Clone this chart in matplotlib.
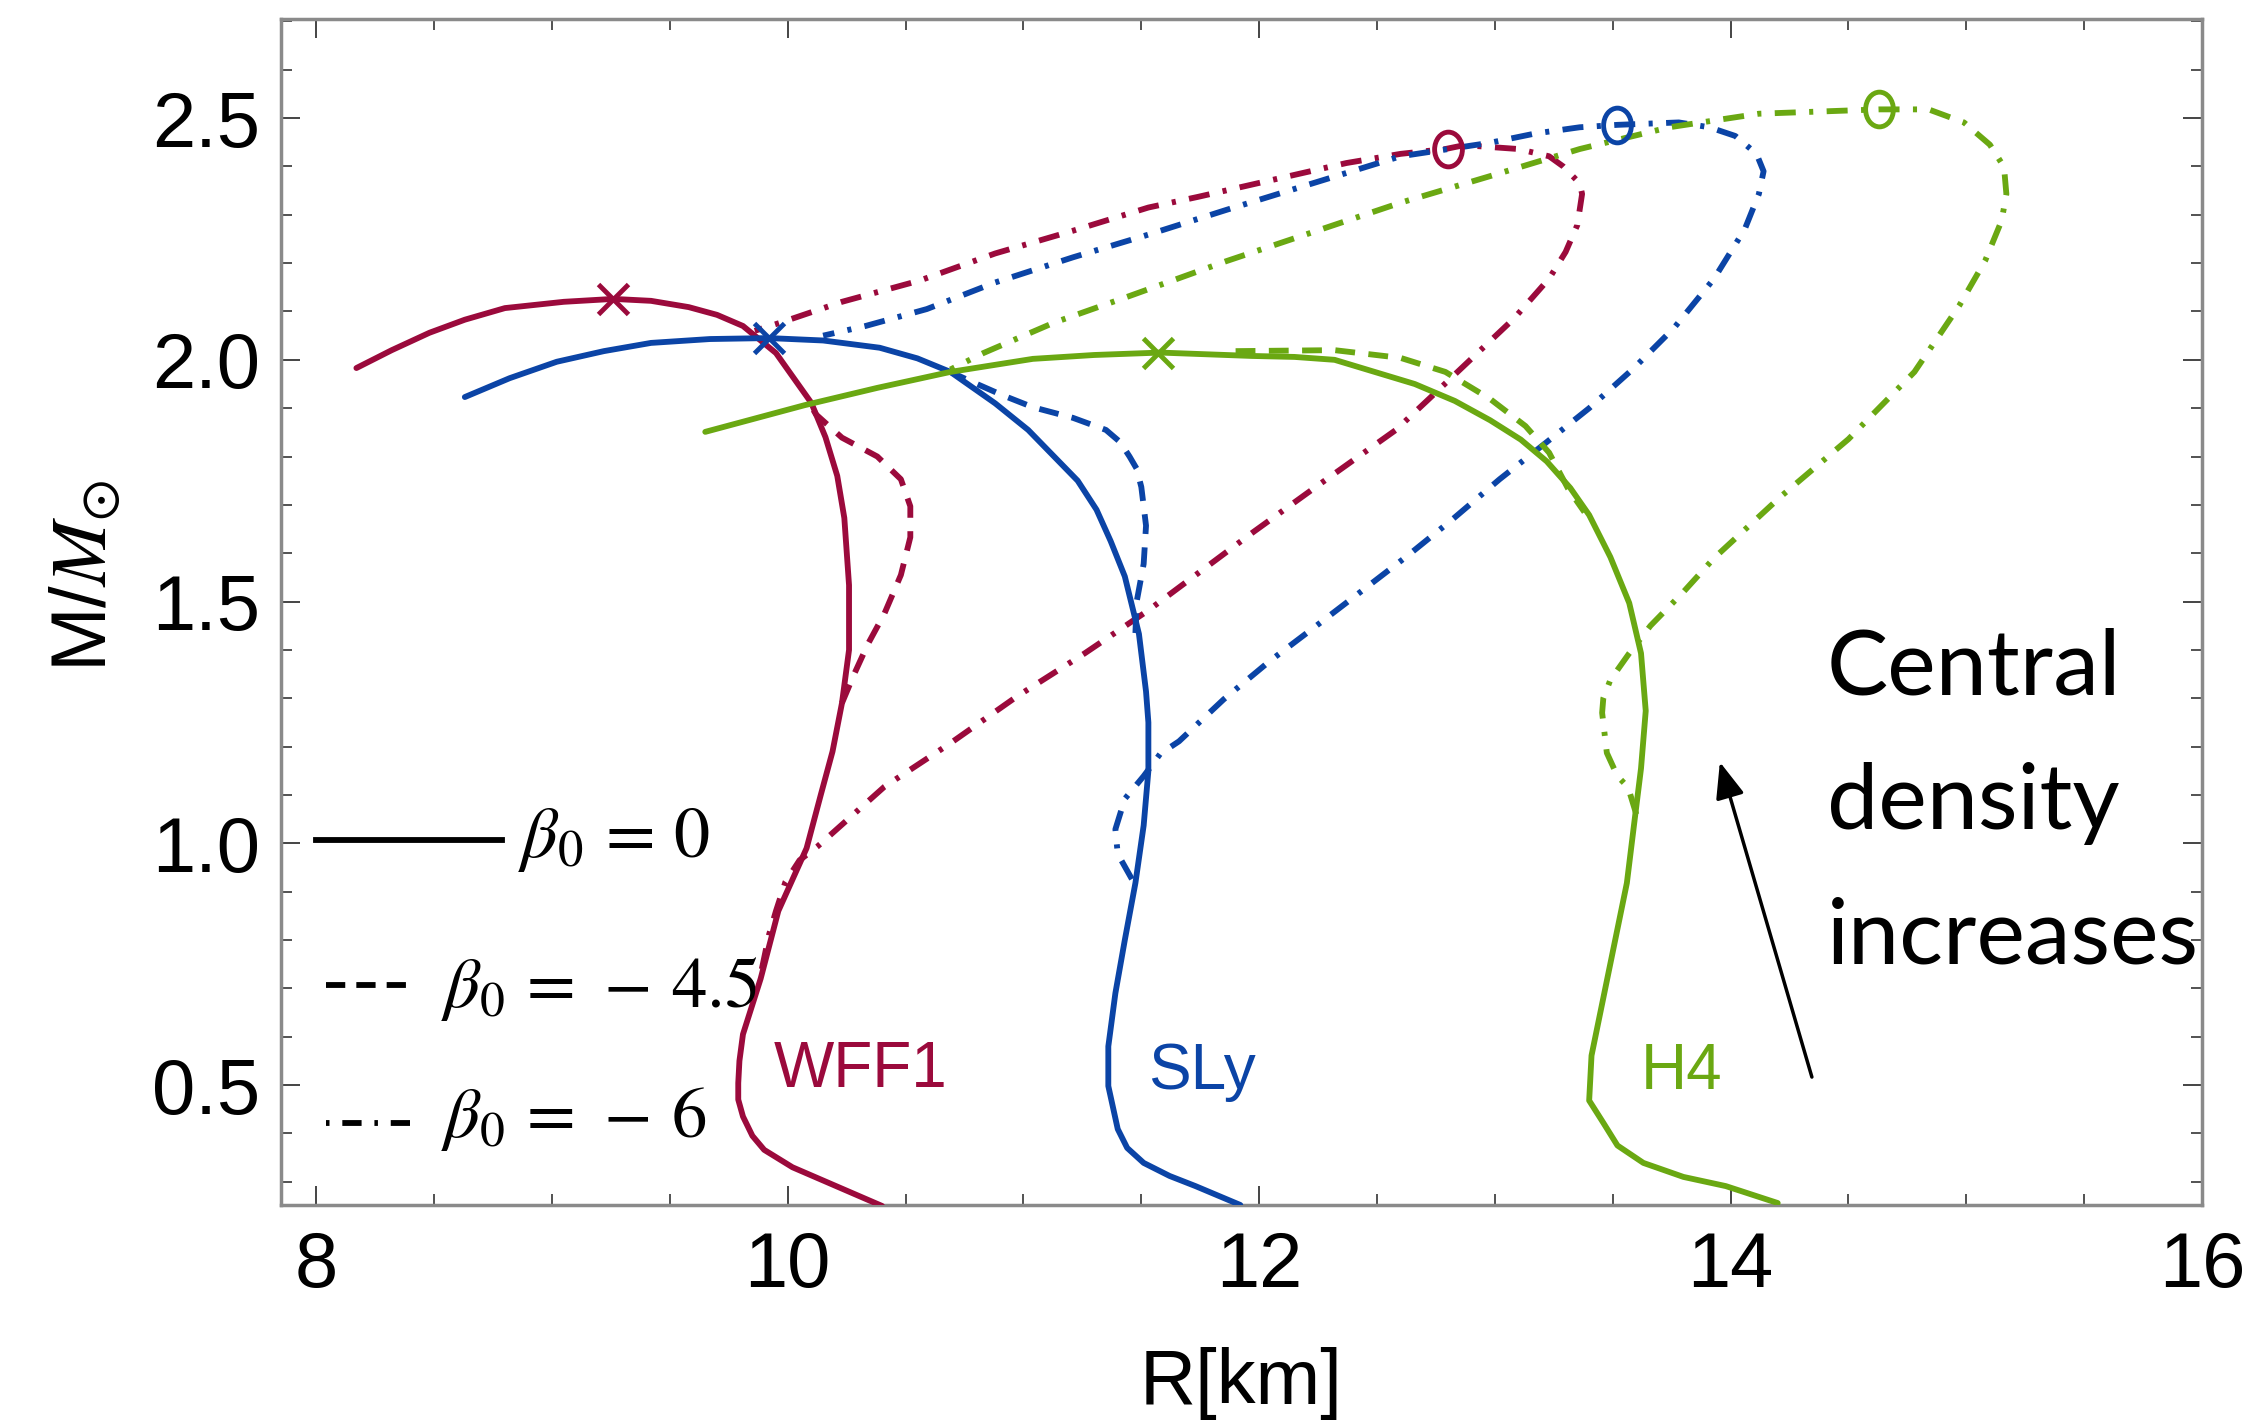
"""
Mass-radius curves for three EOS (WFF1, SLy, H4) in scalar-tensor gravity,
for beta0 = 0, -4.5 and -6.  Writes out.png.
"""
import matplotlib.pyplot as plt
from matplotlib.markers import MarkerStyle
from matplotlib.ticker import MultipleLocator
from matplotlib.transforms import Affine2D

# -------------------------------------------------------
# Data: R [km], M / M_sun
# -------------------------------------------------------
# WFF1
wff1_gr_r = [10.40, 10.21, 10.02, 9.90, 9.85, 9.81, 9.79, 9.79, 9.795, 9.81, 9.885, 9.96, 10.08,
             10.14, 10.19, 10.23, 10.26, 10.26, 10.24, 10.21, 10.16, 10.10, 9.95, 9.81, 9.70,
             9.58, 9.42, 9.26, 9.05, 8.80, 8.63, 8.48, 8.32, 8.17]
wff1_gr_m = [0.25, 0.29, 0.33, 0.366, 0.395, 0.435, 0.47, 0.504, 0.55, 0.605, 0.72, 0.86, 0.99,
             1.10, 1.19, 1.29, 1.40, 1.534, 1.673, 1.76, 1.84, 1.911, 2.014, 2.07, 2.093,
             2.109, 2.122, 2.126, 2.12, 2.107, 2.083, 2.056, 2.02, 1.983]
wff1_b45_r = [10.23, 10.28, 10.34, 10.41, 10.48, 10.52, 10.52, 10.48, 10.38, 10.23, 10.12, 10.08]
wff1_b45_m = [1.29, 1.348, 1.412, 1.475, 1.555, 1.633, 1.697, 1.753, 1.80, 1.839, 1.887, 1.92]
wff1_b6_r = [9.89, 9.92, 9.95, 9.99, 10.05, 10.125, 10.41, 10.69, 10.97, 11.26, 11.53, 11.97,
             12.24, 12.58, 12.72, 12.90, 13.08, 13.23, 13.30, 13.35, 13.37, 13.36, 13.29, 13.23,
             13.10, 12.87, 12.79, 12.60, 12.37, 11.74, 11.53, 11.21, 10.88, 10.56, 10.23, 9.97,
             9.86]
wff1_b6_m = [0.74, 0.81, 0.86, 0.92, 0.965, 0.993, 1.117, 1.207, 1.303, 1.393, 1.482, 1.642,
             1.737, 1.855, 1.919, 2.002, 2.085, 2.168, 2.223, 2.279, 2.343, 2.365, 2.40, 2.421,
             2.436, 2.444, 2.436, 2.426, 2.407, 2.337, 2.315, 2.267, 2.22, 2.164, 2.12, 2.077,
             2.06]

# SLy
sly_gr_r = [11.92, 11.73, 11.62, 11.51, 11.44, 11.40, 11.36, 11.36, 11.39, 11.43, 11.475, 11.51,
            11.53, 11.53, 11.52, 11.49, 11.43, 11.37, 11.31, 11.23, 11.13, 11.02, 10.88, 10.69,
            10.55, 10.39, 10.15, 9.92, 9.67, 9.42, 9.22, 9.02, 8.82, 8.63]
sly_gr_m = [0.252, 0.291, 0.312, 0.339, 0.37, 0.409, 0.498, 0.58, 0.69, 0.80, 0.918, 1.037,
            1.15, 1.25, 1.314, 1.433, 1.552, 1.625, 1.69, 1.75, 1.80, 1.855, 1.91, 1.975,
            2.003, 2.025, 2.04, 2.045, 2.043, 2.035, 2.018, 1.996, 1.962, 1.923]
sly_b45_r = [11.475, 11.48, 11.51, 11.52, 11.50, 11.48, 11.45, 11.41, 11.35, 11.21, 11.04, 10.91,
             10.77, 10.69]
sly_b45_m = [1.435, 1.499, 1.578, 1.657, 1.737, 1.775, 1.80, 1.83, 1.855, 1.88, 1.902, 1.927,
             1.957, 1.975]
sly_b6_r = [11.46, 11.40, 11.39, 11.43, 11.51, 11.58, 11.66, 11.85, 12.045, 12.24, 12.43, 12.63,
            12.82, 13.02, 13.21, 13.40, 13.59, 13.76, 13.93, 14.06, 14.12, 14.14, 14.11, 14.02,
            13.91, 13.78, 13.52, 13.36, 13.17, 12.98, 12.60, 11.86, 11.53, 11.21, 10.88, 10.59,
            10.33, 10.15]
sly_b6_m = [0.926, 0.978, 1.029, 1.092, 1.139, 1.185, 1.211, 1.298, 1.377, 1.449, 1.52, 1.595,
            1.67, 1.753, 1.826, 1.90, 1.983, 2.066, 2.168, 2.27, 2.343, 2.39, 2.426, 2.463,
            2.481, 2.491, 2.486, 2.481, 2.468, 2.449, 2.421, 2.31, 2.259, 2.212, 2.16, 2.105,
            2.07, 2.05]

# H4
h4_gr_r = [14.20, 13.98, 13.80, 13.63, 13.52, 13.46, 13.40, 13.41, 13.46, 13.51, 13.56, 13.59,
           13.62, 13.64, 13.62, 13.57, 13.49, 13.40, 13.32, 13.22, 13.11, 12.98, 12.83, 12.66,
           12.32, 12.15, 11.97, 11.58, 11.30, 11.04, 10.69, 10.38, 10.07, 9.65]
h4_gr_m = [0.256, 0.291, 0.31, 0.339, 0.375, 0.422, 0.468, 0.561, 0.68, 0.799, 0.918, 1.037,
           1.155, 1.274, 1.393, 1.497, 1.592, 1.679, 1.735, 1.79, 1.835, 1.875, 1.915, 1.95,
           2.0, 2.006, 2.008, 2.015, 2.01, 2.002, 1.975, 1.942, 1.906, 1.851]
h4_b45_r = [11.90, 12.32, 12.60, 12.79, 12.98, 13.13, 13.23, 13.31, 13.38]
h4_b45_m = [2.018, 2.02, 2.004, 1.975, 1.919, 1.863, 1.808, 1.734, 1.685]
h4_b6_r = [13.60, 13.565, 13.52, 13.475, 13.455, 13.46, 13.49, 13.57, 13.66, 13.80, 13.93,
           14.21, 14.50, 14.78, 14.97, 15.08, 15.15, 15.17, 15.16, 15.10, 14.99, 14.84, 14.63,
           14.12, 13.74, 13.36, 12.98, 12.60, 11.86, 11.45, 11.13, 10.83, 10.69]
h4_b6_m = [1.06, 1.116, 1.139, 1.187, 1.27, 1.30, 1.338, 1.393, 1.45, 1.52, 1.59,
           1.716, 1.836, 1.975, 2.112, 2.205, 2.288, 2.343, 2.399, 2.445, 2.491, 2.518, 2.518,
           2.509, 2.481, 2.436, 2.38, 2.325, 2.204, 2.132, 2.077, 2.014, 1.98]

# maximum-mass points: x for beta0 = 0, o for beta0 = -6
max_gr_r = [9.26, 9.92, 11.57]
max_gr_m = [2.126, 2.045, 2.015]
max_b6_r = [12.80, 13.52, 14.63]
max_b6_m = [2.437, 2.486, 2.518]

eos_names = ["WFF1", "SLy", "H4"]
eos_colors = ["#9b0a3c", "#0b44a6", "#6aa812"]
eos_label_pos = [(9.94, 0.496), (11.53, 0.492), (13.62, 0.492)]

curves = {
    "WFF1": [(wff1_b6_r, wff1_b6_m), (wff1_b45_r, wff1_b45_m), (wff1_gr_r, wff1_gr_m)],
    "SLy": [(sly_b6_r, sly_b6_m), (sly_b45_r, sly_b45_m), (sly_gr_r, sly_gr_m)],
    "H4": [(h4_b6_r, h4_b6_m), (h4_b45_r, h4_b45_m), (h4_gr_r, h4_gr_m)],
}

LW = 4.2
DASHED = (3.4, 2.3)
DASHDOT = (3.6, 2.3, 0.7, 2.3)
styles = [DASHDOT, DASHED, None]   # same order as in `curves`


plt.rcParams["font.family"] = ["Liberation Sans", "DejaVu Sans"]
plt.rcParams["mathtext.fontset"] = "stix"

fig, ax = plt.subplots(figsize=(22.55, 14.26), dpi=100)
fig.subplots_adjust(left=0.1246, right=0.9765, bottom=0.155, top=0.9867)

for name, color in zip(eos_names, eos_colors):
    for (r, m), dash in zip(curves[name], styles):
        if dash is None:
            ax.plot(r, m, color=color, lw=LW, solid_capstyle="round",
                    solid_joinstyle="round", zorder=3)
        else:
            ax.plot(r, m, color=color, lw=LW, dashes=dash, zorder=2)

# markers
x_marker = MarkerStyle("x")
o_marker = MarkerStyle("o", fillstyle="none", transform=Affine2D().scale(0.8, 1.0))
for i, color in enumerate(eos_colors):
    ax.plot(max_gr_r[i], max_gr_m[i], ls="none", marker=x_marker, ms=22, mew=3.5,
            color=color, zorder=4)
    ax.plot(max_b6_r[i], max_b6_m[i], ls="none", marker=o_marker, ms=25, mew=3.5,
            color=color, zorder=4)

for name, color, (lx, ly) in zip(eos_names, eos_colors, eos_label_pos):
    ax.text(lx, ly, name, color=color, fontsize=46, va="baseline", ha="left")

# hand-made legend (line samples + labels)
ax.plot([0.018, 0.115], [0.3078, 0.3078], transform=ax.transAxes, color="black", lw=LW)
ax.plot([0.0234, 0.0703], [0.1855, 0.1855], transform=ax.transAxes, color="black",
        lw=LW, dashes=(3.3, 1.9))
ax.plot([0.0234, 0.0703], [0.0691, 0.0691], transform=ax.transAxes, color="black",
        lw=LW, dashes=(0.6, 2.2, 3.3, 2.2))
ax.text(0.1234, 0.2934, r"$\beta_0\,=\,0$", transform=ax.transAxes, fontsize=52,
        va="baseline", ha="left")
ax.text(0.0833, 0.167, r"$\beta_0\,=\,-\,4.5$", transform=ax.transAxes, fontsize=51,
        va="baseline", ha="left")
ax.text(0.0833, 0.0573, r"$\beta_0\,=\,-\,6$", transform=ax.transAxes, fontsize=51,
        va="baseline", ha="left")

# annotation on the right
for txt, y in zip(["Central", "density", "increases"], [0.5133, 0.4187, 0.3240]):
    fig.text(0.8102, y, txt, fontsize=66, family=["Lato", "DejaVu Sans"], va="baseline",
             ha="left")
ax.annotate("", xy=(0.7627, 0.4656), xytext=(0.8035, 0.2447),
            xycoords="figure fraction", textcoords="figure fraction",
            arrowprops=dict(arrowstyle="-|>,head_length=0.55,head_width=0.22",
                            mutation_scale=40, lw=2.5, color="black",
                            shrinkA=0, shrinkB=0))

# axes
ax.set_xlim(7.85, 16.0)
ax.set_ylim(0.252, 2.705)
ax.set_xticks([8, 10, 12, 14, 16])
ax.set_yticks([0.5, 1.0, 1.5, 2.0, 2.5])
ax.xaxis.set_minor_locator(MultipleLocator(0.5))
ax.yaxis.set_minor_locator(MultipleLocator(0.1))
ax.tick_params(which="both", direction="in", top=True, right=True, color="#444444")
ax.tick_params(which="major", length=13.5, width=1.4, labelsize=56)
ax.tick_params(which="minor", length=8, width=1.3)
ax.tick_params(axis="x", pad=18)
ax.tick_params(axis="y", pad=15)
for sp in ax.spines.values():
    sp.set_color("#8a8a8a")
    sp.set_linewidth(2.5)

ax.set_xlabel("R[km]", fontsize=56)
ax.set_ylabel(r"M/$M_{\odot}$", fontsize=56)
ax.xaxis.set_label_coords(0.5, -0.12)
ax.yaxis.set_label_coords(-0.083, 0.53)

fig.savefig("out.png", dpi=100)
plt.close(fig)
